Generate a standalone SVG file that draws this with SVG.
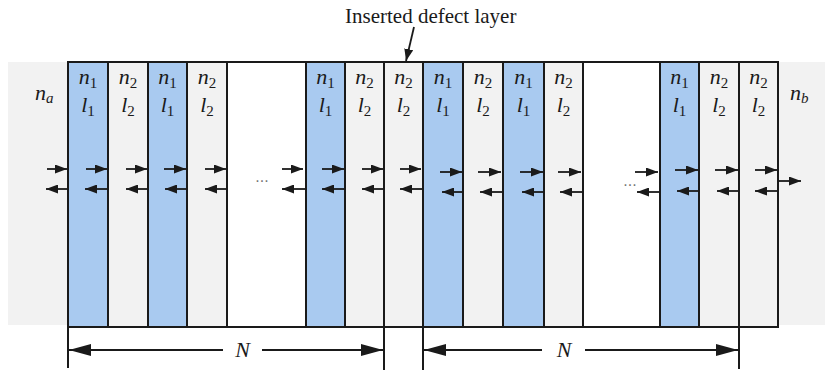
<svg xmlns="http://www.w3.org/2000/svg" width="825" height="371" viewBox="0 0 825 371">
<defs>
<style>
.bg{fill:#f2f2f2}
.blue{fill:#a9caf0;stroke:#1a1a1a;stroke-width:2}
.gray{fill:#f2f2f2;stroke:#1a1a1a;stroke-width:2}
.white{fill:#ffffff;stroke:#1a1a1a;stroke-width:2}
.lbl{font-family:"Liberation Serif","Times New Roman",serif;font-size:22px;fill:#1a1a1a;text-anchor:middle}
.ttl{font-family:"Liberation Serif","Times New Roman",serif;font-size:21px;fill:#1a1a1a}
.it{font-style:italic}
.sub{font-size:15px;font-style:normal}
.arr{stroke:#1a1a1a;stroke-width:1.8;fill:none;marker-end:url(#ah)}
.big{stroke:#1a1a1a;stroke-width:1.8;fill:none;marker-end:url(#bh)}
.ext{stroke:#1a1a1a;stroke-width:2}
.dots{font-family:"Liberation Sans",Arial,sans-serif;font-size:16px;fill:#777;text-anchor:middle}
</style>
<marker id="ah" viewBox="0 0 12 9" refX="12" refY="4.5" markerWidth="12" markerHeight="9" markerUnits="userSpaceOnUse" orient="auto">
<path d="M0,0 L12,4.5 L0,9 z" fill="#1a1a1a"/>
</marker>
<marker id="bh" viewBox="0 0 22 12" refX="22" refY="6" markerWidth="22" markerHeight="12" markerUnits="userSpaceOnUse" orient="auto">
<path d="M0,0 L22,6 L0,12 z" fill="#1a1a1a"/>
</marker>
</defs>
<rect class="bg" x="8" y="62" width="817" height="263"/>

<g id="na"><text class="lbl" x="35" y="100" style="text-anchor:start"><tspan class="it">n</tspan><tspan class="sub" style="font-style:italic" dy="3">a</tspan></text></g>
<g id="nb"><text class="lbl" x="790" y="100" style="text-anchor:start"><tspan class="it">n</tspan><tspan class="sub" style="font-style:italic" dy="3">b</tspan></text></g>

<g id="layer1"><rect class="blue" x="68" y="62" width="40" height="265"/><text class="lbl" x="88" y="84"><tspan class="it">n</tspan><tspan class="sub" dy="4">1</tspan></text><text class="lbl" x="88" y="112"><tspan class="it">l</tspan><tspan class="sub" dy="4">1</tspan></text></g>
<g id="layer2"><rect class="gray" x="108" y="62" width="40" height="265"/><text class="lbl" x="128" y="84"><tspan class="it">n</tspan><tspan class="sub" dy="4">2</tspan></text><text class="lbl" x="128" y="112"><tspan class="it">l</tspan><tspan class="sub" dy="4">2</tspan></text></g>
<g id="layer3"><rect class="blue" x="148" y="62" width="39" height="265"/><text class="lbl" x="167.5" y="84"><tspan class="it">n</tspan><tspan class="sub" dy="4">1</tspan></text><text class="lbl" x="167.5" y="112"><tspan class="it">l</tspan><tspan class="sub" dy="4">1</tspan></text></g>
<g id="layer4"><rect class="gray" x="187" y="62" width="40" height="265"/><text class="lbl" x="207" y="84"><tspan class="it">n</tspan><tspan class="sub" dy="4">2</tspan></text><text class="lbl" x="207" y="112"><tspan class="it">l</tspan><tspan class="sub" dy="4">2</tspan></text></g>
<g id="gap1"><rect class="white" x="227" y="62" width="79" height="265"/><text class="dots" x="262" y="182">...</text></g>
<g id="layer5"><rect class="blue" x="306" y="62" width="39" height="265"/><text class="lbl" x="325.5" y="84"><tspan class="it">n</tspan><tspan class="sub" dy="4">1</tspan></text><text class="lbl" x="325.5" y="112"><tspan class="it">l</tspan><tspan class="sub" dy="4">1</tspan></text></g>
<g id="layer6"><rect class="gray" x="345" y="62" width="39" height="265"/><text class="lbl" x="364.5" y="84"><tspan class="it">n</tspan><tspan class="sub" dy="4">2</tspan></text><text class="lbl" x="364.5" y="112"><tspan class="it">l</tspan><tspan class="sub" dy="4">2</tspan></text></g>
<g id="defect"><rect class="gray" x="384" y="62" width="39" height="265"/><text class="lbl" x="403.5" y="84"><tspan class="it">n</tspan><tspan class="sub" dy="4">2</tspan></text><text class="lbl" x="403.5" y="112"><tspan class="it">l</tspan><tspan class="sub" dy="4">2</tspan></text></g>
<g id="layer7"><rect class="blue" x="423" y="62" width="40" height="265"/><text class="lbl" x="443" y="84"><tspan class="it">n</tspan><tspan class="sub" dy="4">1</tspan></text><text class="lbl" x="443" y="112"><tspan class="it">l</tspan><tspan class="sub" dy="4">1</tspan></text></g>
<g id="layer8"><rect class="gray" x="463" y="62" width="40" height="265"/><text class="lbl" x="483" y="84"><tspan class="it">n</tspan><tspan class="sub" dy="4">2</tspan></text><text class="lbl" x="483" y="112"><tspan class="it">l</tspan><tspan class="sub" dy="4">2</tspan></text></g>
<g id="layer9"><rect class="blue" x="503" y="62" width="41" height="265"/><text class="lbl" x="523.5" y="84"><tspan class="it">n</tspan><tspan class="sub" dy="4">1</tspan></text><text class="lbl" x="523.5" y="112"><tspan class="it">l</tspan><tspan class="sub" dy="4">1</tspan></text></g>
<g id="layer10"><rect class="gray" x="544" y="62" width="39" height="265"/><text class="lbl" x="563.5" y="84"><tspan class="it">n</tspan><tspan class="sub" dy="4">2</tspan></text><text class="lbl" x="563.5" y="112"><tspan class="it">l</tspan><tspan class="sub" dy="4">2</tspan></text></g>
<g id="gap2"><rect class="white" x="583" y="62" width="77" height="265"/><text class="dots" x="630" y="186">...</text></g>
<g id="layer11"><rect class="blue" x="660" y="62" width="39" height="265"/><text class="lbl" x="679.5" y="84"><tspan class="it">n</tspan><tspan class="sub" dy="4">1</tspan></text><text class="lbl" x="679.5" y="112"><tspan class="it">l</tspan><tspan class="sub" dy="4">1</tspan></text></g>
<g id="layer12"><rect class="gray" x="699" y="62" width="40" height="265"/><text class="lbl" x="719" y="84"><tspan class="it">n</tspan><tspan class="sub" dy="4">2</tspan></text><text class="lbl" x="719" y="112"><tspan class="it">l</tspan><tspan class="sub" dy="4">2</tspan></text></g>
<g id="layer13"><rect class="gray" x="739" y="62" width="39" height="265"/><text class="lbl" x="758.5" y="84"><tspan class="it">n</tspan><tspan class="sub" dy="4">2</tspan></text><text class="lbl" x="758.5" y="112"><tspan class="it">l</tspan><tspan class="sub" dy="4">2</tspan></text></g>

<g id="defect-label"><text class="ttl" x="345" y="23">Inserted defect layer</text></g>

<g id="connectors">
<path class="arr" d="M414,27 L406,61"/>
<path class="arr" d="M47,169 H67"/><path class="arr" d="M68,189 H46"/>
<path class="arr" d="M86,169 H107"/><path class="arr" d="M108,189 H85"/>
<path class="arr" d="M126,169 H147"/><path class="arr" d="M148,189 H126"/>
<path class="arr" d="M164,169 H186"/><path class="arr" d="M187,189 H165"/>
<path class="arr" d="M205,169 H226"/><path class="arr" d="M227,189 H205"/>
<path class="arr" d="M282,169 H303"/><path class="arr" d="M305,189 H282"/>
<path class="arr" d="M322,169 H344"/><path class="arr" d="M345,189 H322"/>
<path class="arr" d="M362,169 H383"/><path class="arr" d="M384,189 H362"/>
<path class="arr" d="M400,169 H421"/><path class="arr" d="M423,189 H400"/>
<path class="arr" d="M440,172 H462"/><path class="arr" d="M463,192 H442"/>
<path class="arr" d="M478,172 H501"/><path class="arr" d="M503,192 H480"/>
<path class="arr" d="M520,172 H543"/><path class="arr" d="M544,192 H522"/>
<path class="arr" d="M558,172 H581"/><path class="arr" d="M583,192 H560"/>
<path class="arr" d="M635,172 H658"/><path class="arr" d="M660,192 H637"/>
<path class="arr" d="M675,170 H698"/><path class="arr" d="M699,191 H677"/>
<path class="arr" d="M715,170 H738"/><path class="arr" d="M739,191 H717"/>
<path class="arr" d="M755,170 H777"/><path class="arr" d="M778,191 H755"/>
<path class="arr" d="M778,181 H801"/>
<line class="ext" x1="68" y1="326" x2="68" y2="368"/>
<line class="ext" x1="384" y1="326" x2="384" y2="370"/>
<line class="ext" x1="423" y1="326" x2="423" y2="370"/>
<line class="ext" x1="739" y1="326" x2="739" y2="369"/>
<path class="big" d="M223,350 H69"/><path class="big" d="M262,350 H383"/>
<path class="big" d="M542,350 H424"/><path class="big" d="M585,350 H738"/>
</g>
<g id="N1"><text class="lbl it" x="242.5" y="357">N</text></g>
<g id="N2"><text class="lbl it" x="564" y="357">N</text></g>
</svg>
